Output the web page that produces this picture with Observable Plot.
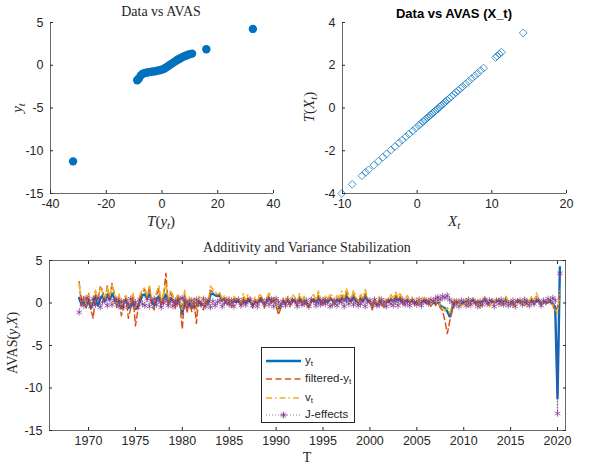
<!DOCTYPE html>
<html><head><meta charset="utf-8">
<script src="https://cdn.jsdelivr.net/npm/d3@7"></script>
<script src="https://cdn.jsdelivr.net/npm/@observablehq/plot@0.6"></script>
<style>
body{margin:0;background:#fff;}
#root{position:relative;width:591px;height:464px;background:#fff;overflow:hidden;font-family:'Liberation Sans',Arial,sans-serif;color:#262626;}
.abs{position:absolute;white-space:nowrap;line-height:1;}
.c{transform:translate(-50%,-50%);}
.rot{transform:translate(-50%,-50%) rotate(-90deg);}
.serif{font-family:'Liberation Serif','Times New Roman',serif;}
.it{font-style:italic;}
sub{font-size:70%;vertical-align:-0.3em;line-height:0;}
.panel{position:absolute;}
.lg{position:absolute;font-size:11.5px;left:43px;}
</style></head><body><div id="root"></div>
<script>
// ---------- Top-left: y_t versus T(y_t) ----------
const Ty = [-8.9,-8.3,-7.6,-6.9,-6.1,-5.3,-4.5,-3.7,-2.9,-2.1,-1.3,-0.5,0.3,1.0,1.7,2.4,3.1,3.8,4.5,5.2,5.9,6.6,7.3,8.0,8.7,9.4,10.1,10.8,15.9,32.6,-31.9];
const yt  = [-1.75,-1.55,-1.2,-1.0,-0.9,-0.85,-0.8,-0.75,-0.72,-0.68,-0.62,-0.56,-0.48,-0.35,-0.2,-0.05,0.1,0.25,0.4,0.55,0.7,0.82,0.95,1.05,1.15,1.22,1.3,1.36,1.87,4.25,-11.24];

// ---------- Top-right: T(X_t) versus X_t ----------
const Xt  = [-10.1,-8.7,-7.4,-6.9,-6.5,-5.8,-5.2,-4.6,-4.1,-3.5,-3.0,-2.4,-2.0,-1.5,-1.1,-0.6,-0.2,0.2,0.5,0.8,1.0,1.2,1.4,1.6,1.8,2.0,2.2,2.4,2.6,2.8,3.0,3.2,3.4,3.6,3.8,4.0,4.3,4.6,4.9,5.2,5.5,5.8,6.1,6.5,6.9,7.3,7.7,8.1,8.5,8.9,10.5,10.7,11.0,11.3,14.2];
const TXt = [-4.00,-3.57,-3.17,-3.01,-2.89,-2.67,-2.49,-2.30,-2.15,-1.96,-1.81,-1.62,-1.50,-1.34,-1.22,-1.07,-0.94,-0.82,-0.73,-0.63,-0.57,-0.51,-0.45,-0.39,-0.32,-0.26,-0.20,-0.14,-0.08,-0.03,0.05,0.11,0.17,0.23,0.29,0.36,0.45,0.54,0.63,0.73,0.82,0.91,1.00,1.13,1.25,1.38,1.50,1.62,1.75,1.87,2.36,2.43,2.52,2.61,3.51];

// ---------- Bottom: quarterly series, 1969 Q1 .. 2020 Q2 ----------
const startYear = 1969;
const stepYears = 0.25;
const ySeries = [
 0.6,-0.2,0.3,-0.4,  0.5,-0.6,0.2,0.8,  -0.3,0.5,0.9,0.2,  1.0,0.4,1.1,0.6,  -0.2,0.3,-0.5,0.1,
 0.4,-0.6,-0.3,0.2,  -0.7,-0.5,0.3,0.9,  1.0,0.6,1.1,0.2,  -0.3,0.4,0.8,0.1,  0.5,1.0,0.2,0.6,
 0.3,-0.2,0.4,0.1,  -1.3,0.6,-0.5,0.2,  -0.6,0.1,-0.4,0.3,  0.0,-0.3,0.2,-0.1,  1.0,1.1,0.9,0.8,
 0.9,0.3,0.5,0.0,  0.3,-0.2,0.4,0.1,  0.2,-0.1,0.5,0.0,  0.4,0.2,-0.3,0.3,  0.0,0.5,0.3,-0.2,
 0.2,0.6,0.1,0.3,  -0.1,-0.7,-0.3,0.2,  0.0,0.3,-0.2,0.4,  0.2,-0.1,0.5,0.1,  0.3,0.0,-0.3,0.2,
 0.4,0.1,0.6,0.2,  0.0,0.3,0.1,0.5,  0.3,0.0,0.4,0.2,  0.6,0.3,0.8,0.4,  0.2,0.7,0.3,0.1,
 0.5,0.2,0.8,0.3,  0.1,-0.4,0.2,-0.2,  0.3,0.0,-0.2,0.2,  0.1,0.4,0.2,0.7,  0.3,0.6,0.0,0.2,
 0.4,0.1,0.3,0.0,  0.2,-0.1,0.1,0.3,  0.0,0.2,-0.2,0.1,  -0.1,0.2,-0.3,-0.5,  -0.6,-1.0,-1.6,-0.8,
 0.3,0.0,0.2,-0.1,  0.1,0.3,-0.2,0.2,  0.4,0.0,0.2,-0.3,  0.2,0.5,0.1,-0.2,  0.3,0.0,0.2,0.4,
 -0.1,0.2,0.5,0.1,  0.2,-0.2,0.1,0.3,  0.0,0.2,-0.1,0.3,  0.1,0.4,0.0,0.2,  0.3,-0.1,0.2,0.0,
 0.1,0.2,-0.1,-0.5,  -11.2,4.2];
const filteredSeries = [
 2.5,-0.3,0.5,-0.6,  1.2,-0.8,-1.8,1.0,  0.3,1.9,1.5,0.2,  2.0,0.5,2.3,1.0,  -0.5,0.8,-1.5,-0.2,
 0.6,-1.8,-0.6,0.9,  -2.7,-0.9,0.6,1.3,  1.6,0.4,2.0,-0.3,  -0.8,0.9,1.7,-0.5,  0.8,3.5,-0.4,1.2,
 0.5,-0.7,0.8,-0.3,  -3.1,1.2,-1.2,0.4,  -1.0,0.3,-2.4,0.5,  -0.4,-0.8,0.3,-0.3,  1.5,1.3,1.0,0.9,
 1.1,0.2,0.7,-0.3,  0.4,-0.5,0.6,0.2,  0.3,-0.4,0.8,0.0,  0.6,0.3,-0.6,0.4,  -0.2,0.8,0.5,-0.6,
 0.3,0.9,0.0,0.5,  -0.3,-1.4,-0.6,0.4,  -0.2,0.5,-0.5,0.6,  0.3,-0.3,0.7,0.0,  0.4,-0.2,-0.6,0.3,
 0.6,0.0,0.9,0.2,  -0.2,0.5,0.0,0.7,  0.4,-0.2,0.6,0.3,  0.9,0.3,1.2,0.5,  0.2,1.0,0.4,-0.1,
 0.7,0.2,1.1,0.3,  -0.1,-0.8,0.2,-0.4,  0.4,-0.2,-0.5,0.3,  0.1,0.6,0.2,0.9,  0.3,0.8,-0.2,0.2,
 0.5,0.0,0.4,-0.2,  0.3,-0.3,0.2,0.4,  -0.1,0.3,-0.4,0.1,  -0.3,0.2,-0.6,-0.9,  -2.1,-3.6,-2.2,-1.0,
 0.4,-0.2,0.3,-0.3,  0.1,0.4,-0.5,0.2,  0.5,-0.2,0.3,-0.6,  0.2,0.6,0.0,-0.4,  0.4,-0.1,0.3,0.5,
 -0.3,0.2,0.7,0.0,  0.2,-0.5,0.1,0.4,  -0.1,0.3,-0.3,0.4,  0.1,0.6,-0.2,0.3,  0.4,-0.3,0.2,-0.1,
 0.1,0.3,-0.3,-1.0,  -0.5,0.8];
const vSeries = [
 2.3,0.2,0.8,-0.2,  1.0,-0.3,0.6,1.5,  0.2,1.8,1.2,0.4,  1.9,0.6,2.2,1.3,  0.0,1.1,-0.4,0.5,
 1.0,-0.5,0.3,1.2,  -0.6,0.2,1.0,1.6,  1.8,0.8,2.0,0.4,  0.2,1.3,2.0,0.3,  1.2,2.2,0.4,1.5,
 0.9,0.0,1.1,0.2,  -0.8,1.5,-0.3,0.7,  -0.2,0.6,-0.9,0.8,  0.3,-0.3,0.6,0.2,  2.0,1.6,1.3,1.1,
 1.2,0.5,0.9,0.1,  0.7,-0.2,0.8,0.4,  0.6,-0.1,1.1,0.3,  1.0,0.5,-0.4,0.7,  0.1,1.1,0.7,-0.3,
 0.6,1.3,0.3,0.8,  0.1,-0.9,-0.4,0.6,  0.2,0.8,-0.3,1.0,  0.7,0.0,1.1,0.3,  0.8,0.1,-0.4,0.6,
 1.0,0.3,1.4,0.5,  0.2,0.9,0.3,1.1,  0.8,0.1,1.0,0.6,  1.4,0.6,1.7,0.9,  0.5,1.5,0.7,0.2,
 1.1,0.5,1.6,0.6,  0.3,-0.5,0.5,-0.1,  0.8,0.1,-0.3,0.6,  0.4,1.0,0.5,1.3,  0.7,1.2,0.1,0.5,
 0.9,0.2,0.7,0.1,  0.6,-0.1,0.5,0.8,  0.2,0.6,-0.2,0.4,  0.0,0.5,-0.4,-0.6,  -0.9,-0.5,-1.2,-0.3,
 0.5,-0.2,0.4,-0.4,  0.2,0.5,-0.5,0.3,  0.6,-0.2,0.4,-0.6,  0.3,0.7,0.0,-0.4,  0.5,-0.1,0.3,0.6,
 -0.3,0.3,0.8,0.0,  0.3,-0.5,0.2,0.5,  -0.1,0.4,-0.3,0.5,  0.2,0.8,-0.2,1.2,  0.4,-0.3,0.3,-0.1,
 0.2,0.4,-0.2,-0.8,  -1.2,1.5];
const jSeries = [
 -1.1,0.5,-0.3,0.6,  0.2,-0.4,0.5,-0.2,  0.6,-0.5,0.1,0.4,  -0.3,0.5,-0.2,0.3,  0.4,-0.4,0.2,-0.5,
 0.3,-0.2,0.5,-0.3,  0.1,-0.5,0.4,-0.1,  -0.3,0.5,-0.4,0.2,  0.5,-0.2,0.3,-0.5,  0.0,0.4,-0.3,0.2,
 -0.4,0.3,-0.1,0.5,  0.6,-0.4,0.2,-0.3,  0.3,-0.5,0.4,0.0,  -0.2,0.5,-0.4,0.3,  -0.5,0.2,-0.3,0.1,
 0.3,-0.4,0.0,0.4,  -0.2,0.3,-0.4,0.2,  0.4,-0.3,0.1,-0.2,  0.2,0.4,-0.3,0.1,  -0.4,0.2,0.3,-0.1,
 0.3,-0.2,0.4,-0.4,  0.5,0.1,-0.3,0.2,  -0.3,0.4,-0.1,0.3,  0.2,-0.4,0.3,-0.2,  -0.1,0.3,-0.4,0.4,
 0.2,-0.3,0.1,-0.2,  0.4,-0.1,0.3,-0.4,  -0.2,0.3,-0.3,0.2,  0.1,-0.4,0.3,-0.1,  0.4,-0.2,0.2,-0.3,
 -0.1,0.3,-0.4,0.2,  0.3,-0.2,0.4,-0.3,  -0.2,0.4,0.1,-0.4,  0.3,-0.1,-0.3,0.2,  -0.3,0.2,0.4,-0.2,
 0.1,-0.3,0.3,0.0,  -0.2,0.4,-0.3,0.2,  0.3,-0.1,0.4,0.2,  0.5,0.7,0.4,0.8,  0.6,0.9,0.4,0.1,
 -0.3,0.2,-0.4,0.3,  0.1,-0.3,0.4,-0.2,  0.3,0.0,-0.4,0.2,  -0.2,0.4,-0.1,0.3,  0.2,-0.4,0.3,-0.1,
 0.4,-0.2,0.1,-0.3,  -0.1,0.3,-0.4,0.2,  0.3,-0.2,0.4,-0.1,  -0.3,0.2,-0.1,0.4,  0.2,-0.3,0.3,0.1,
 0.5,0.2,0.6,0.3,  -13.0,3.5];

const xTicksTL = [-40,-20,0,20,40], yTicksTL = [-15,-10,-5,0,5];
const xTicksTR = [-10,0,10,20], yTicksTR = [-4,-2,0,2,4];
const xTicksB = [1970,1975,1980,1985,1990,1995,2000,2005,2010,2015,2020], yTicksB = [-15,-10,-5,0,5];

const C = {blue:"#0072BD", orange:"#D95319", yellow:"#EDB120", purple:"#7E2F8E", axis:"#262626"};
const root = document.getElementById("root");
const fmt = d => String(d);
const baseStyle = {fontFamily:"'Liberation Sans', Arial, sans-serif", fontSize:"12.5px", color:C.axis, background:"transparent", overflow:"visible"};

function axes(xt, yt, xdom, ydom, box) {
  const m = [
    Plot.axisX(xt, {anchor:"bottom", tickSize:-3, tickPadding:9, tickFormat:fmt, label:null, stroke:C.axis}),
    Plot.axisY(yt, {anchor:"left", tickSize:-3, tickPadding:10, tickFormat:fmt, label:null, stroke:C.axis}),
    Plot.ruleY([ydom[0]], {stroke:C.axis, strokeWidth:0.7}),
    Plot.ruleX([xdom[0]], {stroke:C.axis, strokeWidth:0.7})
  ];
  if (box) {
    m.push(Plot.axisX(xt, {anchor:"top", tickSize:-3, tickFormat:()=>"", label:null, stroke:C.axis}));
    m.push(Plot.axisY(yt, {anchor:"right", tickSize:-3, tickFormat:()=>"", label:null, stroke:C.axis}));
    m.push(Plot.ruleY([ydom[1]], {stroke:C.axis, strokeWidth:0.7}));
    m.push(Plot.ruleX([xdom[1]], {stroke:C.axis, strokeWidth:0.7}));
  }
  return m;
}
function place(el, left, top) {
  const d = document.createElement("div");
  d.className = "panel"; d.style.left = left + "px"; d.style.top = top + "px";
  d.appendChild(el); root.appendChild(d);
}
function label(html, x, y, cls, extra) {
  const d = document.createElement("div");
  d.className = "abs " + cls; d.style.left = x + "px"; d.style.top = y + "px";
  if (extra) d.style.cssText += extra;
  d.innerHTML = html; root.appendChild(d);
}

// Top-left panel
const tlData = Ty.map((x, i) => ({x, y: yt[i]}));
const tlX = [-40, 40], tlY = [-15, 5];
place(Plot.plot({
  width:300, height:235, marginLeft:50, marginRight:27, marginTop:22, marginBottom:42,
  x:{domain:tlX}, y:{domain:tlY}, style:baseStyle,
  marks:[
    ...axes(xTicksTL, yTicksTL, tlX, tlY, false),
    Plot.dot(tlData, {x:"x", y:"y", r:4.2, fill:C.blue})
  ]
}), 0, 0);

// Top-right panel
const trData = Xt.map((x, i) => ({x, y: TXt[i]}));
const trX = [-10, 20], trY = [-4, 4];
place(Plot.plot({
  width:301, height:235, marginLeft:52, marginRight:25, marginTop:22, marginBottom:42,
  x:{domain:trX}, y:{domain:trY}, style:baseStyle,
  marks:[
    ...axes(xTicksTR, yTicksTR, trX, trY, false),
    Plot.dot(trData, {x:"x", y:"y", symbol:"diamond2", r:3.5, fill:"none", stroke:C.blue, strokeOpacity:0.7, strokeWidth:1})
  ]
}), 290, 0);

// Bottom panel
const rows = (arr) => arr.map((v, i) => ({t: startYear + i * stepYears, v}));
const bX = [1965.84, 2020.85], bY = [-15, 5];
place(Plot.plot({
  width:591, height:229, marginLeft:49, marginRight:26, marginTop:25, marginBottom:34,
  x:{domain:bX}, y:{domain:bY}, style:baseStyle,
  marks:[
    Plot.line(rows(ySeries), {x:"t", y:"v", stroke:C.blue, strokeWidth:2.4}),
    Plot.line(rows(filteredSeries), {x:"t", y:"v", stroke:C.orange, strokeWidth:1.5, strokeDasharray:"6,3.5"}),
    Plot.line(rows(vSeries), {x:"t", y:"v", stroke:C.yellow, strokeWidth:1.5, strokeDasharray:"6,3,1.5,3"}),
    Plot.line(rows(jSeries), {x:"t", y:"v", stroke:C.purple, strokeWidth:0.7, strokeDasharray:"1,2"}),
    Plot.dot(rows(jSeries), {x:"t", y:"v", symbol:"asterisk", r:3, stroke:C.purple, strokeWidth:0.7}),
    ...axes(xTicksB, yTicksB, bX, bY, true)
  ]
}), 0, 235);

// Titles and axis labels
label("Data vs AVAS", 161, 12, "serif c", "font-size:14px;");
label("Data vs AVAS (X_t)", 454, 13, "c", "font-size:13px;font-weight:bold;color:#000;");
label("Additivity and Variance Stabilization", 307, 248, "serif c", "font-size:14px;");
label('<span class="it">T</span>(<span class="it">y<sub>t</sub></span>)', 161, 221, "serif c", "font-size:15px;");
label('<span class="it">y<sub>t</sub></span>', 17, 108, "serif rot", "font-size:15px;");
label('<span class="it">X<sub>t</sub></span>', 454, 221, "serif c", "font-size:15px;");
label('<span class="it">T</span>(<span class="it">X<sub>t</sub></span>)', 309, 107, "serif rot", "font-size:15px;");
label('AVAS(<span class="it">y</span>,<span class="it">X</span>)', 13, 343, "serif rot", "font-size:14px;");
label('T', 307, 458, "serif c", "font-size:14px;");

// Legend
const lg = document.createElement("div");
lg.className = "abs";
lg.style.cssText += "left:261px;top:347px;width:94px;height:76px;border:0.8px solid #262626;background:#fff;box-sizing:border-box;";
lg.innerHTML = `
<svg width="42" height="76" style="position:absolute;left:0;top:0">
  <line x1="4" x2="39" y1="13" y2="13" stroke="${C.blue}" stroke-width="2.4"/>
  <line x1="4" x2="39" y1="31" y2="31" stroke="${C.orange}" stroke-width="1.5" stroke-dasharray="6,3.5"/>
  <line x1="4" x2="39" y1="50" y2="50" stroke="${C.yellow}" stroke-width="1.5" stroke-dasharray="6,3,1.5,3"/>
  <line x1="4" x2="39" y1="67" y2="67" stroke="${C.purple}" stroke-width="0.7" stroke-dasharray="1,2"/>
  <g stroke="${C.purple}" stroke-width="0.8" transform="translate(21.5,67)">
    <line x1="-3.5" x2="3.5" y1="0" y2="0"/><line x1="0" x2="0" y1="-3.5" y2="3.5"/>
    <line x1="-2.5" x2="2.5" y1="-2.5" y2="2.5"/><line x1="-2.5" x2="2.5" y1="2.5" y2="-2.5"/>
  </g>
</svg>
<div class="lg" style="top:7px">y<sub>t</sub></div>
<div class="lg" style="top:25px">filtered-y<sub>t</sub></div>
<div class="lg" style="top:44px">v<sub>t</sub></div>
<div class="lg" style="top:61px">J-effects</div>`;
root.appendChild(lg);
</script></body></html>
